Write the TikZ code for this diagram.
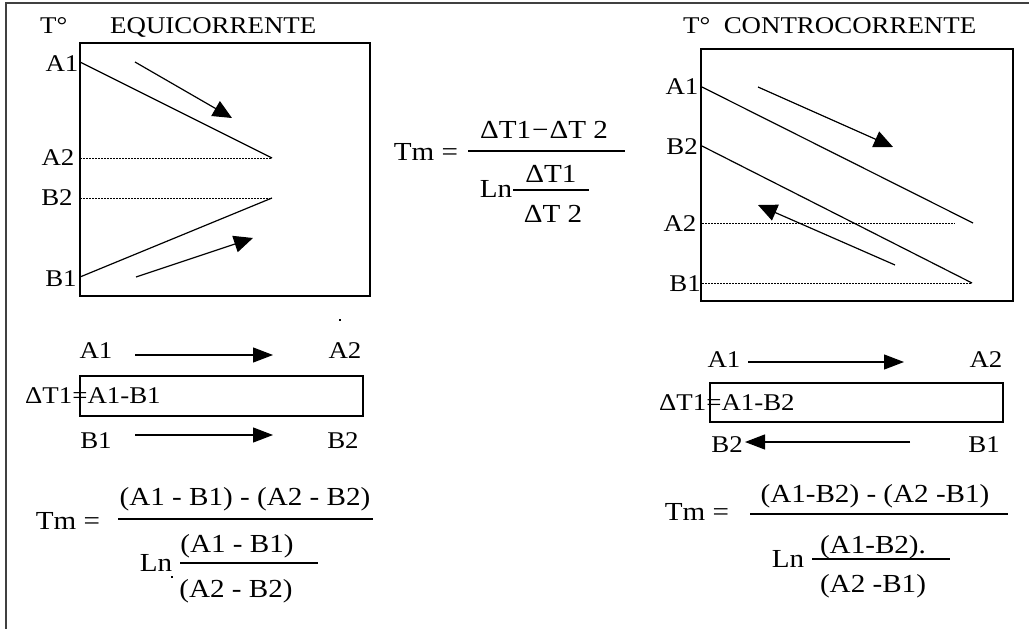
\documentclass[tikz,border=0pt]{standalone}
\usepackage{fontspec}
\setmainfont{Liberation Serif}[FakeStretch=1.12]
\usetikzlibrary{arrows.meta}
\begin{document}
\begin{tikzpicture}[x=1pt,y=-1pt,
  lbl/.style={inner sep=0pt,anchor=base,font=\fontsize{24}{24}\selectfont},
  ttl/.style={inner sep=0pt,anchor=base west,font=\fontsize{24}{24}\selectfont},
  frm/.style={inner sep=0pt,anchor=base,font=\fontsize{26}{26}\selectfont},
  plotline/.style={line width=1.2pt},
  dotline/.style={line width=1pt,dash pattern=on 1.5pt off 1.5pt},
  pflow/.style={line width=1.2pt,-{Triangle[length=19pt,width=17pt]}},
  flow/.style={line width=1.2pt,-{Triangle[length=20pt,width=15pt]}},
  boxline/.style={draw,line width=1.6pt},
  fbar/.style={line width=1.2pt},
  outer/.style={line width=2pt,draw=black!75},
]
\useasboundingbox (0,0) rectangle (1029,629);
% outer frame (left and top only)
\coordinate (fTL) at (6,3);
\coordinate (fBL) at (6,629);
\coordinate (fTR) at (1029,3);
\draw[outer] (fBL) -- (fTL) -- (fTR);

% ===== left plot: EQUICORRENTE =====
\node[ttl] (tL) at (40,33) {T\textdegree};
\node[ttl] (titleL) at (110,34) {EQUICORRENTE};
\node[boxline,minimum width=290pt,minimum height=253pt,inner sep=0pt,anchor=north west] (boxL) at (79,42) {};
\node[lbl] (lA1) at (62,71) {A1};
\node[lbl] (lA2) at (58,165) {A2};
\node[lbl] (lB2) at (57,205) {B2};
\node[lbl] (lB1) at (61,286) {B1};
\coordinate (L1s) at (80,62);
\coordinate (L1e) at (272,158);
\coordinate (L2s) at (80,277);
\coordinate (L2e) at (272,198);
\coordinate (LdA) at (80,158);
\coordinate (LdB) at (80,198);
\draw[plotline] (L1s) -- (L1e);
\draw[plotline] (L2s) -- (L2e);
\draw[dotline] (LdA) -- (L1e);
\draw[dotline] (LdB) -- (L2e);
\coordinate (La1s) at (135,62);
\coordinate (La1e) at (232,118);
\coordinate (La2s) at (136,277);
\coordinate (La2e) at (253,238);
\draw[pflow] (La1s) -- (La1e);
\draw[pflow] (La2s) -- (La2e);

% ===== right plot: CONTROCORRENTE =====
\node[ttl] (titleR) at (683,33) {T\textdegree\ \ CONTROCORRENTE};
\node[boxline,minimum width=312pt,minimum height=252pt,inner sep=0pt,anchor=north west] (boxR) at (700,48) {};
\node[lbl] (rA1) at (682,94) {A1};
\node[lbl] (rB2) at (682,154) {B2};
\node[lbl] (rA2) at (680,231) {A2};
\node[lbl] (rB1) at (685,291) {B1};
\coordinate (R1s) at (702,87);
\coordinate (R1e) at (973,223);
\coordinate (R2s) at (702,146);
\coordinate (R2e) at (972,283);
\coordinate (RdA) at (702,223);
\coordinate (RdAe) at (955,223);
\coordinate (RdB) at (702,283);
\draw[plotline] (R1s) -- (R1e);
\draw[plotline] (R2s) -- (R2e);
\draw[dotline] (RdA) -- (RdAe);
\draw[dotline] (RdB) -- (R2e);
\coordinate (Ra1s) at (758,87);
\coordinate (Ra1e) at (893,147);
\coordinate (Ra2s) at (895,265);
\coordinate (Ra2e) at (758,205);
\draw[pflow] (Ra1s) -- (Ra1e);
\draw[pflow] (Ra2s) -- (Ra2e);

% ===== middle formula =====
\node[frm] (mTm) at (426,160) {Tm =};
\node[frm] (mNum) at (544,138) {ΔT1\kern1pt−\kern1ptΔT 2};
\coordinate (mBarL) at (468,151);
\coordinate (mBarR) at (625,151);
\draw[fbar] (mBarL) -- (mBarR);
\node[frm] (mLn) at (496,197) {Ln};
\node[frm] (mN2) at (551,182) {ΔT1};
\node[frm] (mD2) at (553,222) {ΔT 2};
\coordinate (mB2L) at (513,190);
\coordinate (mB2R) at (589,190);
\draw[fbar] (mB2L) -- (mB2R);

% ===== lower left: flows =====
\node[lbl] (fA1) at (96,358) {A1};
\node[lbl] (fA2) at (345,358) {A2};
\node[lbl] (fB1) at (96,448) {B1};
\node[lbl] (fB2) at (343,448) {B2};
\coordinate (fa1s) at (135,355);
\coordinate (fa1e) at (273,355);
\coordinate (fb1s) at (135,435);
\coordinate (fb1e) at (273,435);
\draw[flow] (fa1s) -- (fa1e);
\draw[flow] (fb1s) -- (fb1e);
\node[boxline,minimum width=283pt,minimum height=40pt,inner sep=0pt,anchor=north west] (dboxL) at (79,375) {};
\node[lbl,anchor=base west] (dTL) at (25,403) {ΔT1=A1-B1};
\fill (339,319) rectangle (341,321);

% lower left formula
\node[frm] (lTm) at (68,529) {Tm =};
\node[frm] (lNum) at (245,505) {(A1 - B1) - (A2 - B2)};
\coordinate (lBarL) at (118,519);
\coordinate (lBarR) at (373,519);
\draw[fbar] (lBarL) -- (lBarR);
\node[frm] (lLn) at (156,571) {Ln};
\fill (171,576) rectangle (173,578);
\node[frm] (lN2) at (237,552) {(A1 - B1)};
\node[frm] (lD2) at (236,597) {(A2 - B2)};
\coordinate (lB2L) at (180,563);
\coordinate (lB2R) at (318,563);
\draw[fbar] (lB2L) -- (lB2R);

% ===== lower right: flows =====
\node[lbl] (gA1) at (724,367) {A1};
\node[lbl] (gA2) at (986,367) {A2};
\node[lbl] (gB2) at (727,452) {B2};
\node[lbl] (gB1) at (984,452) {B1};
\coordinate (ga1s) at (748,362);
\coordinate (ga1e) at (904,362);
\draw[flow] (ga1s) -- (ga1e);
\coordinate (gb2s) at (910,442);
\coordinate (gb2e) at (745,442);
\draw[flow] (gb2s) -- (gb2e);
\node[boxline,minimum width=293pt,minimum height=39pt,inner sep=0pt,anchor=north west] (dboxR) at (709,382) {};
\node[lbl,anchor=base west] (dTR) at (659,410) {ΔT1=A1-B2};

% lower right formula
\node[frm] (rTm) at (697,520) {Tm =};
\node[frm] (rNum) at (875,502) {(A1-B2) - (A2 -B1)};
\coordinate (rBarL) at (750,514);
\coordinate (rBarR) at (1008,514);
\draw[fbar] (rBarL) -- (rBarR);
\node[frm] (rLn) at (788,567) {Ln};
\node[frm] (rN2) at (873,553) {(A1-B2).};
\node[frm] (rD2) at (873,592) {(A2 -B1)};
\coordinate (rB2L) at (812,559);
\coordinate (rB2R) at (950,559);
\draw[fbar] (rB2L) -- (rB2R);
\end{tikzpicture}
\end{document}
